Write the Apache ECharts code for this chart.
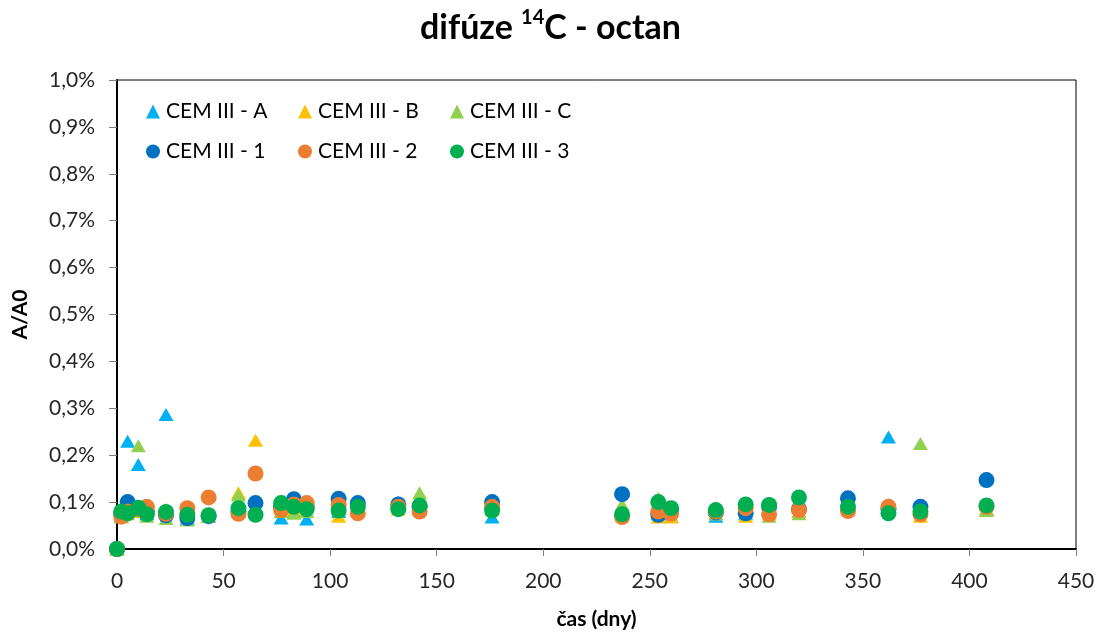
<!DOCTYPE html>
<html>
<head>
<meta charset="utf-8">
<script src="https://cdn.jsdelivr.net/npm/echarts@6/dist/echarts.min.js"></script>
<style>
html,body{margin:0;padding:0;background:#fff;}
#chart{width:1101px;height:635px;}
</style>
</head>
<body>
<div id="chart"></div>
<script>
// days (x axis: čas (dny))
const days = [0, 2, 5, 10, 14, 23, 33, 43, 57, 65, 77, 83, 89, 104, 113, 132, 142, 176, 237, 254, 260, 281, 295, 306, 320, 343, 362, 377, 408];
// A/A0 in percent
const cemA = [0, 0.07, 0.23, 0.18, 0.075, 0.287, 0.065, 0.07, 0.08, 0.08, 0.066, 0.08, 0.064, 0.08, 0.085, 0.1, 0.09, 0.068, 0.08, 0.075, 0.07, 0.07, 0.075, 0.08, 0.08, 0.09, 0.239, 0.08, 0.085];
const cemB = [0, 0.07, 0.075, 0.08, 0.08, 0.085, 0.07, 0.07, 0.12, 0.232, 0.08, 0.085, 0.08, 0.07, 0.08, 0.085, 0.085, 0.105, 0.072, 0.068, 0.068, 0.075, 0.07, 0.075, 0.08, 0.085, 0.085, 0.07, 0.085];
const cemC = [0, 0.068, 0.08, 0.22, 0.07, 0.065, 0.062, 0.07, 0.115, 0.08, 0.08, 0.076, 0.08, 0.085, 0.1, 0.09, 0.12, 0.085, 0.095, 0.108, 0.08, 0.075, 0.08, 0.07, 0.075, 0.085, 0.095, 0.225, 0.082];
const cem1 = [0, 0.075, 0.1, 0.085, 0.08, 0.072, 0.066, 0.07, 0.08, 0.098, 0.09, 0.106, 0.09, 0.107, 0.098, 0.095, 0.09, 0.1, 0.117, 0.073, 0.08, 0.078, 0.076, 0.09, 0.085, 0.108, 0.085, 0.09, 0.147];
const cem2 = [0, 0.069, 0.08, 0.085, 0.09, 0.075, 0.087, 0.11, 0.075, 0.161, 0.083, 0.095, 0.098, 0.094, 0.076, 0.09, 0.08, 0.09, 0.068, 0.08, 0.075, 0.08, 0.087, 0.074, 0.083, 0.081, 0.09, 0.074, 0.09];
const cem3 = [0, 0.08, 0.076, 0.088, 0.074, 0.079, 0.073, 0.072, 0.087, 0.073, 0.098, 0.09, 0.085, 0.082, 0.09, 0.085, 0.093, 0.082, 0.074, 0.1, 0.087, 0.083, 0.095, 0.094, 0.11, 0.09, 0.076, 0.08, 0.093];

const seriesNames = ['CEM III - A', 'CEM III - B', 'CEM III - C', 'CEM III - 1', 'CEM III - 2', 'CEM III - 3'];
const seriesValues = [cemA, cemB, cemC, cem1, cem2, cem3];
const seriesColors = ['#00B0F0', '#FFC000', '#92D050', '#0070C0', '#ED7D31', '#00B050'];
const seriesSymbols = ['triangle', 'triangle', 'triangle', 'circle', 'circle', 'circle'];

const xMin = 0, xMax = 450, xStep = 50;
const yMin = 0, yMax = 1.0, yStep = 0.1;

const FONT = 'Lato';
const chart = echarts.init(document.getElementById('chart'), null, {renderer: 'canvas'});

const series = seriesNames.map((name, i) => ({
  name: name,
  type: 'scatter',
  symbol: seriesSymbols[i],
  symbolSize: seriesSymbols[i] === 'triangle' ? [15, 13] : 16,
  itemStyle: {color: seriesColors[i], opacity: 1},
  data: days.map((d, j) => [d, seriesValues[i][j]]),
  z: 2 + i
}));

// one legend per entry, arranged in a 3 x 2 grid like the original
const legendCols = [141, 293, 445];
const legendRows = [96, 136];
const legends = seriesNames.map((n, i) => ({
  data: [{name: n, icon: seriesSymbols[i]}],
  left: legendCols[i % 3], top: legendRows[Math.floor(i / 3)],
  itemWidth: 14, itemHeight: 14, itemGap: 0,
  textStyle: {fontFamily: FONT, fontSize: 21, color: '#000', padding: [0, 0, 0, 1]},
  selectedMode: false
}));

chart.setOption({
  animation: false,
  backgroundColor: '#fff',
  title: {
    text: '{t|difúze }{s|14}{t|C - octan}',
    left: 'center',
    top: 3,
    textStyle: {
      rich: {
        t: {fontFamily: FONT, fontWeight: 'bold', fontSize: 34, color: '#000', lineHeight: 40},
        s: {fontFamily: FONT, fontWeight: 'bold', fontSize: 20, color: '#000', lineHeight: 40, verticalAlign: 'top', padding: [0, 0, 10, 0]}
      }
    }
  },
  legend: legends,
  grid: {left: 117, right: 25, top: 80, bottom: 83, show: true, borderColor: '#000', borderWidth: 1, containLabel: false},
  xAxis: {
    type: 'value', min: xMin, max: xMax, interval: xStep,
    name: 'čas (dny)', nameLocation: 'middle', nameGap: 60,
    nameTextStyle: {fontFamily: FONT, fontWeight: 'bold', fontSize: 21, color: '#000'},
    axisLine: {show: true, onZero: false, lineStyle: {color: '#000', width: 2}},
    axisTick: {show: true, inside: false, length: 7, lineStyle: {color: '#808080'}},
    axisLabel: {fontFamily: FONT, fontSize: 21, color: '#262626', margin: 22},
    splitLine: {show: false}
  },
  yAxis: {
    type: 'value', min: yMin, max: yMax, interval: yStep,
    name: 'A/A0', nameLocation: 'middle', nameGap: 86,
    nameTextStyle: {fontFamily: FONT, fontWeight: 'bold', fontSize: 21, color: '#000'},
    axisLine: {show: true, onZero: false, lineStyle: {color: '#000', width: 2}},
    axisTick: {show: true, inside: false, length: 8, lineStyle: {color: '#808080'}},
    axisLabel: {fontFamily: FONT, fontSize: 21, color: '#262626', margin: 22,
      formatter: v => v.toFixed(1).replace('.', ',') + '%'},
    splitLine: {show: false}
  },
  series: series
});
</script>
</body>
</html>
